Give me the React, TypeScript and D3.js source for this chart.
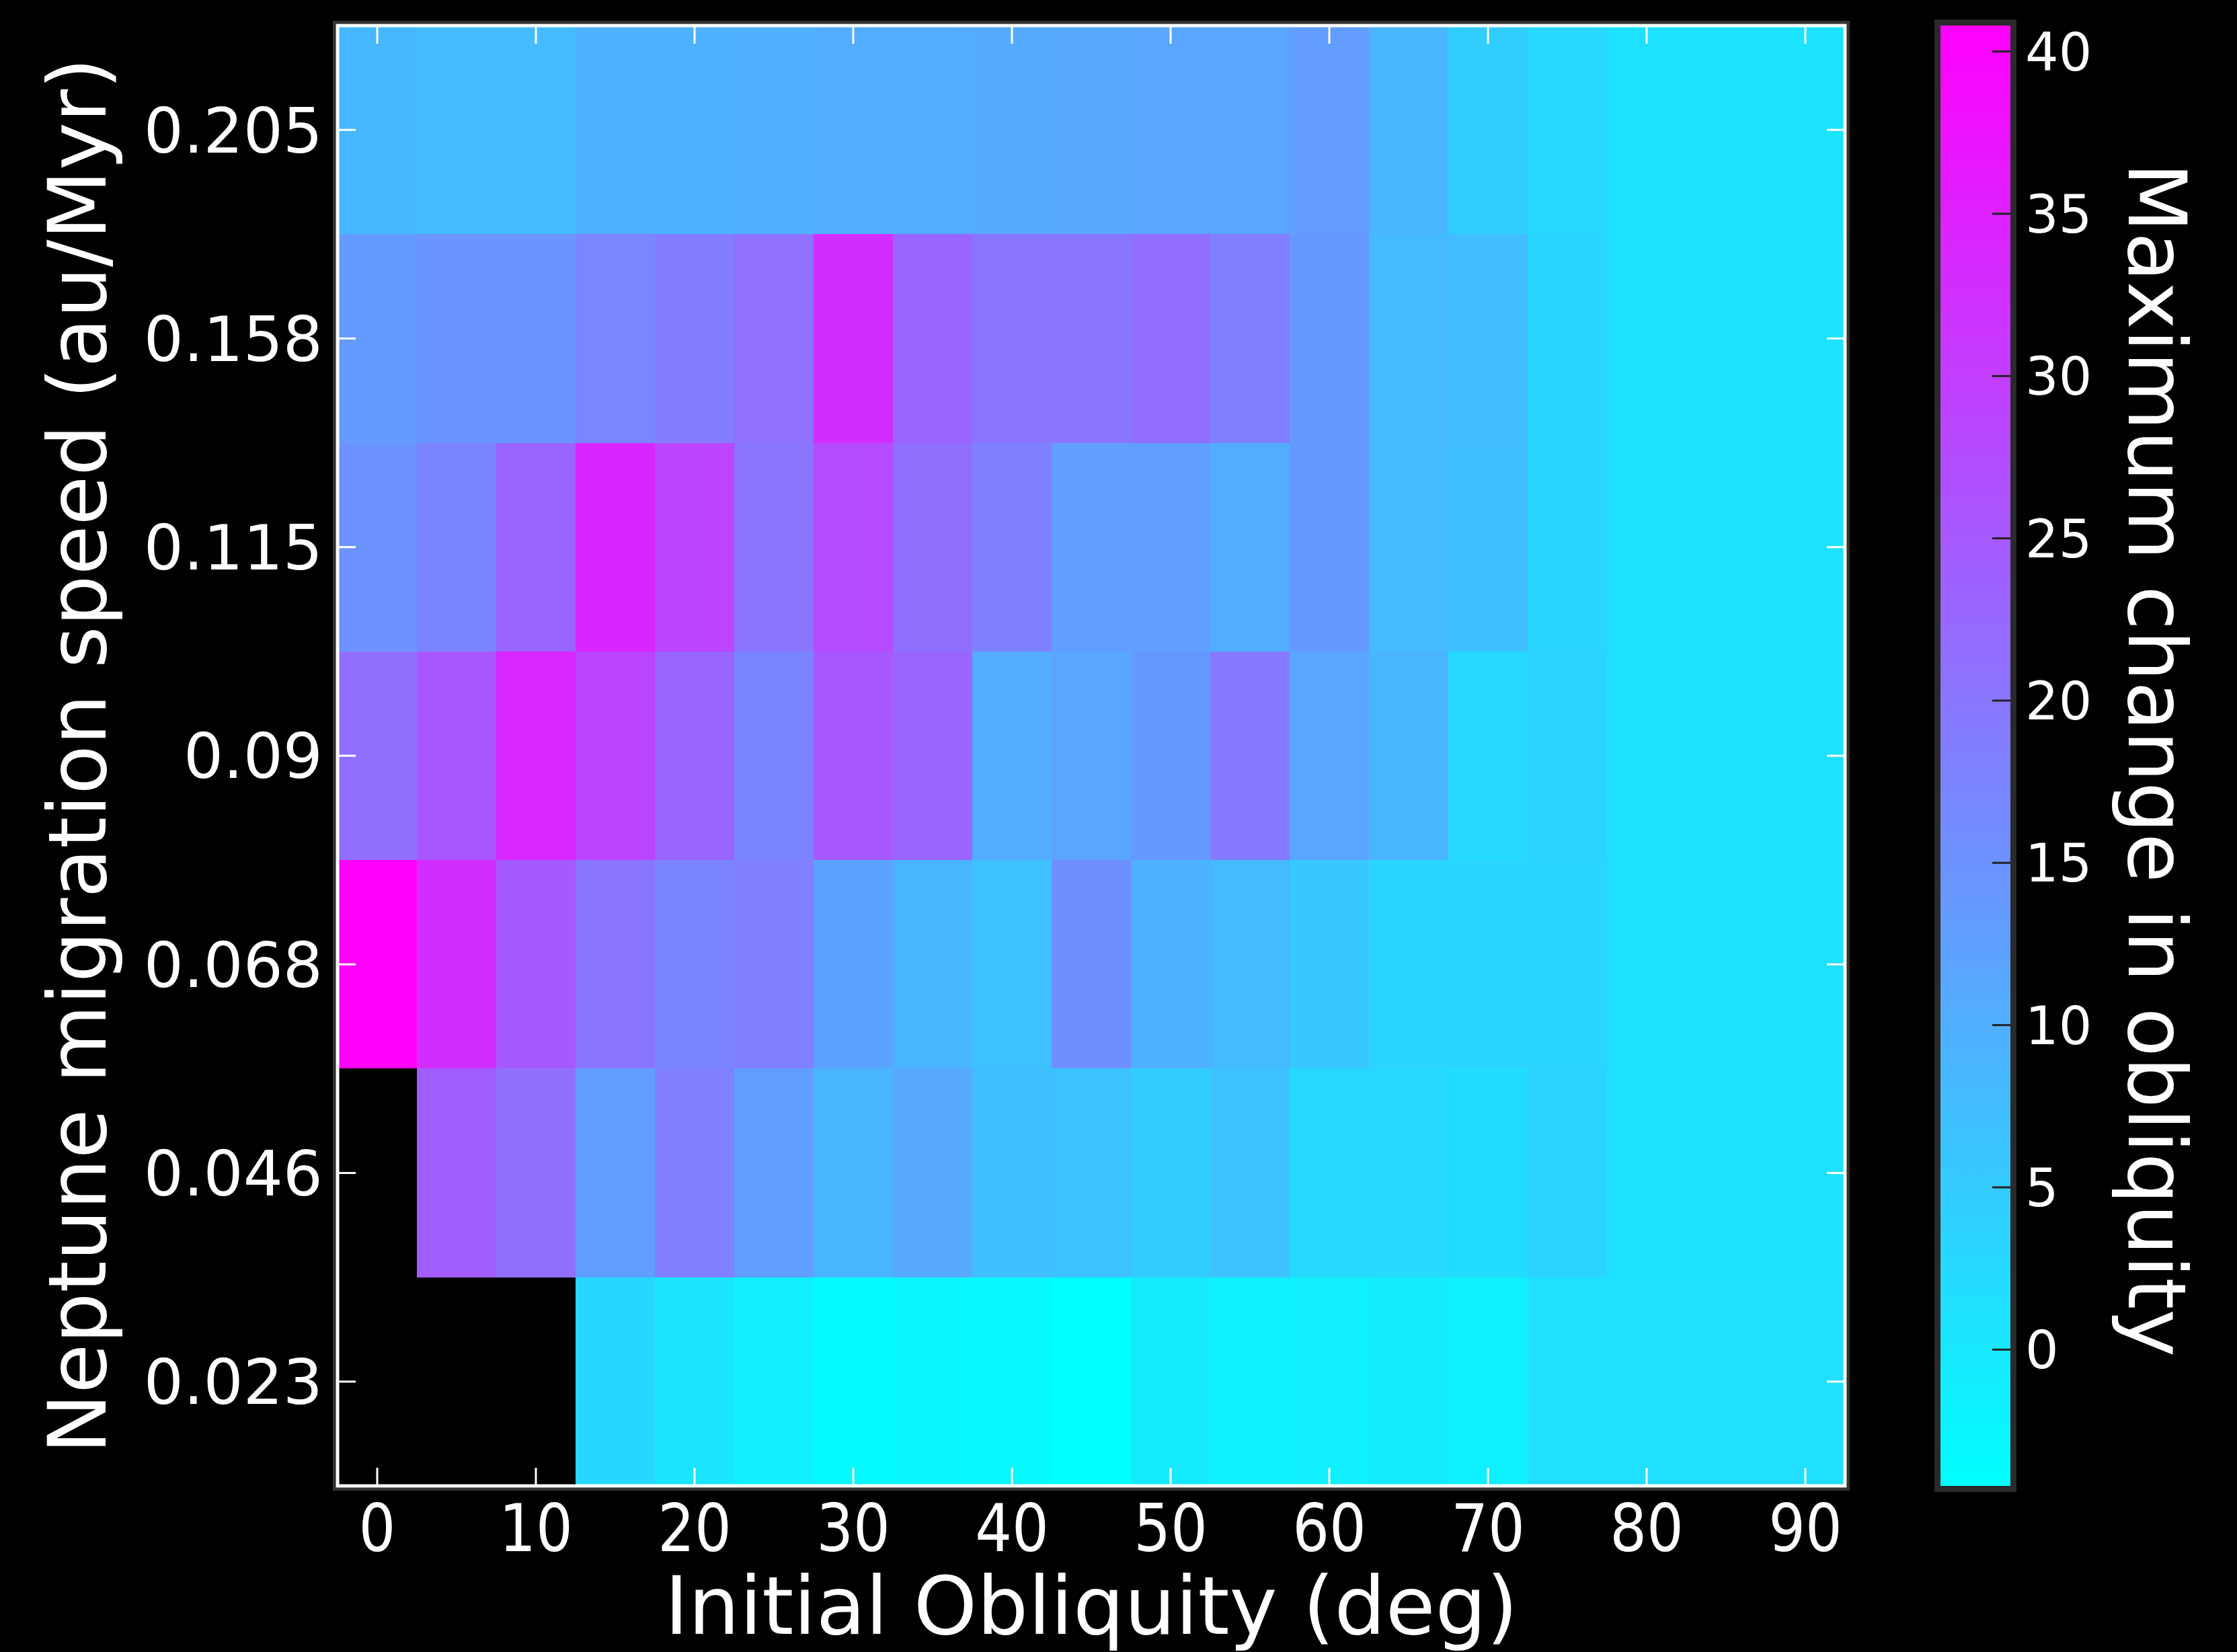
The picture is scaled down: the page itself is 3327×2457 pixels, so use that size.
import React, { useEffect, useRef } from "react";
import * as d3 from "d3";

// initial obliquity (deg), one column each
const obliquity = [0, 5, 10, 15, 20, 25, 30, 35, 40, 45, 50, 55, 60, 65, 70, 75, 80, 85, 90];
// Neptune migration speed rows, bottom to top
const speedLabels = ["0.023", "0.046", "0.068", "0.09", "0.115", "0.158", "0.205"];

// maximum change in obliquity per row (null = no data, drawn black)
const row023 = [null, null, null, 2.9, 0.4, -1.4, -3.3, -2.8, -3.1, -4.2, -0.7, -1.5, -1.4, -0.7, -1.5, 1.4, 1.4, 1.4, 1.4];
const row046 = [null, 24.4, 21.2, 12.7, 18.4, 12.7, 8.9, 11.0, 7.1, 6.4, 4.8, 6.6, 2.5, 2.5, 1.8, 3.4, 0.9, 0.9, 0.9];
const row068 = [40.8, 32.9, 24.9, 20.2, 17.5, 18.4, 12.0, 8.9, 6.6, 15.6, 9.6, 8.0, 5.7, 3.2, 3.2, 3.2, 0.9, 0.9, 0.9];
const row090 = [21.2, 25.4, 33.9, 28.8, 23.0, 17.5, 25.4, 23.0, 10.3, 11.7, 13.8, 19.3, 11.7, 8.9, 2.5, 3.4, 0.9, 0.9, 0.9];
const row115 = [14.9, 17.5, 23.0, 34.1, 28.8, 20.2, 27.6, 21.2, 18.0, 12.7, 12.7, 10.2, 13.8, 8.0, 7.1, 3.2, 0.9, 0.9, 0.9];
const row158 = [13.6, 14.5, 14.5, 17.3, 18.9, 21.0, 32.9, 23.0, 20.2, 20.2, 21.4, 18.4, 13.8, 8.0, 7.4, 3.2, 0.9, 0.9, 0.9];
const row205 = [8.3, 7.8, 7.8, 9.6, 9.6, 9.8, 10.3, 10.4, 10.8, 10.9, 11.7, 11.7, 13.1, 8.9, 4.6, 2.7, 0.9, 0.9, 0.8];

const xTicks = [0, 10, 20, 30, 40, 50, 60, 70, 80, 90];
const cbarTicks = [0, 5, 10, 15, 20, 25, 30, 35, 40];

const vmin = -4.2;
const vmax = 40.8;

// matplotlib "cool": cyan -> magenta
function cool(v: number) {
  const t = Math.max(0, Math.min(1, (v - vmin) / (vmax - vmin)));
  return d3.rgb(255 * t, 255 * (1 - t), 255).formatHex();
}

const FONT = "DejaVu Sans, sans-serif";

export default function App() {
  const ref = useRef<SVGSVGElement>(null);

  useEffect(() => {
    document.body.style.margin = "0";
    document.body.style.background = "#000";

    const rows = [row023, row046, row068, row090, row115, row158, row205];
    const cells: { x: number; label: string; v: number }[] = [];
    rows.forEach((r, i) => {
      r.forEach((v, j) => {
        if (v !== null) cells.push({ x: obliquity[j], label: speedLabels[i], v: v });
      });
    });

    const left = 502, right = 2744, top = 38, bottom = 2210;

    const svg = d3.select(ref.current);
    svg.selectAll("*").remove();

    const xScale = d3.scaleLinear().domain([-2.5, 92.5]).range([left, right]);
    const yScale = d3.scaleBand().domain(speedLabels.slice().reverse()).range([top, bottom]);

    // heatmap cells
    svg.append("g").selectAll("rect").data(cells).join("rect")
      .attr("x", d => xScale(d.x - 2.5))
      .attr("width", d => xScale(d.x + 2.5) - xScale(d.x - 2.5))
      .attr("y", d => yScale(d.label)!)
      .attr("height", yScale.bandwidth())
      .attr("fill", d => cool(d.v))
      .attr("shape-rendering", "crispEdges");

    // frame
    svg.append("rect")
      .attr("x", left - 5).attr("y", top - 5)
      .attr("width", right - left + 10).attr("height", bottom - top + 10)
      .attr("fill", "none").attr("stroke", "#333").attr("stroke-width", 4);
    svg.append("rect")
      .attr("x", left).attr("y", top)
      .attr("width", right - left).attr("height", bottom - top)
      .attr("fill", "none").attr("stroke", "#fff").attr("stroke-width", 5);

    // ticks, inward on all four sides
    const tl = 27;
    const ticks = svg.append("g").attr("stroke", "#fff").attr("stroke-width", 3);
    ticks.selectAll(".xb").data(xTicks).join("line").attr("class", "xb")
      .attr("x1", d => xScale(d)).attr("x2", d => xScale(d))
      .attr("y1", bottom).attr("y2", bottom - tl);
    ticks.selectAll(".xt").data(xTicks).join("line").attr("class", "xt")
      .attr("x1", d => xScale(d)).attr("x2", d => xScale(d))
      .attr("y1", top).attr("y2", top + tl);
    const yc = (d: string) => yScale(d)! + yScale.bandwidth() / 2;
    ticks.selectAll(".yl").data(speedLabels).join("line").attr("class", "yl")
      .attr("x1", left).attr("x2", left + tl)
      .attr("y1", yc).attr("y2", yc);
    ticks.selectAll(".yr").data(speedLabels).join("line").attr("class", "yr")
      .attr("x1", right).attr("x2", right - tl)
      .attr("y1", yc).attr("y2", yc);

    // tick labels (x ones are a bit condensed in the original)
    svg.append("g").selectAll("text").data(xTicks).join("text")
      .attr("transform", d => `translate(${xScale(d)}, 2307) scale(0.88, 1)`)
      .attr("text-anchor", "middle")
      .attr("font-family", FONT).attr("font-size", 98).attr("fill", "#fff")
      .text(d => d);
    svg.append("g").selectAll("text").data(speedLabels).join("text")
      .attr("x", left - 22).attr("y", d => yc(d))
      .attr("dy", "0.36em")
      .attr("text-anchor", "end")
      .attr("font-family", FONT).attr("font-size", 93).attr("fill", "#fff")
      .text(d => d);

    // axis titles
    svg.append("text")
      .attr("x", (left + right) / 2).attr("y", 2430)
      .attr("text-anchor", "middle")
      .attr("font-family", FONT).attr("font-size", 120).attr("fill", "#fff")
      .text("Initial Obliquity (deg)");
    svg.append("text")
      .attr("transform", `translate(157, ${(top + bottom) / 2}) rotate(-90)`)
      .attr("text-anchor", "middle")
      .attr("font-family", FONT).attr("font-size", 120).attr("fill", "#fff")
      .text("Neptune migration speed (au/Myr)");

    // colorbar
    const cbL = 2886, cbR = 2990;
    const cScale = d3.scaleLinear().domain([vmin, vmax]).range([bottom, top]);
    const grad = svg.append("defs").append("linearGradient")
      .attr("id", "coolGrad").attr("x1", 0).attr("y1", 1).attr("x2", 0).attr("y2", 0);
    grad.append("stop").attr("offset", "0%").attr("stop-color", cool(vmin));
    grad.append("stop").attr("offset", "100%").attr("stop-color", cool(vmax));

    svg.append("rect")
      .attr("x", cbL).attr("y", top)
      .attr("width", cbR - cbL).attr("height", bottom - top)
      .attr("fill", "url(#coolGrad)");
    svg.append("rect")
      .attr("x", cbL - 4.5).attr("y", top - 4.5)
      .attr("width", cbR - cbL + 9).attr("height", bottom - top + 9)
      .attr("fill", "none").attr("stroke", "#2a2a2a").attr("stroke-width", 9);

    svg.append("g").selectAll("line").data(cbarTicks).join("line")
      .attr("x1", cbR - 27).attr("x2", cbR)
      .attr("y1", d => cScale(d)).attr("y2", d => cScale(d))
      .attr("stroke", "#222").attr("stroke-width", 3);
    svg.append("g").selectAll("text").data(cbarTicks).join("text")
      .attr("x", 3012).attr("y", d => cScale(d))
      .attr("dy", "0.36em")
      .attr("font-family", FONT).attr("font-size", 78).attr("fill", "#fff")
      .text(d => d);

    svg.append("text")
      .attr("transform", `translate(3166, 1130) rotate(90)`)
      .attr("text-anchor", "middle")
      .attr("font-family", FONT).attr("font-size", 120).attr("fill", "#fff")
      .text("Maximum change in obliquity");
  }, []);

  return (
    <svg ref={ref} width={3327} height={2457}
      style={{ position: "absolute", left: 0, top: 0, background: "#000" }} />
  );
}
